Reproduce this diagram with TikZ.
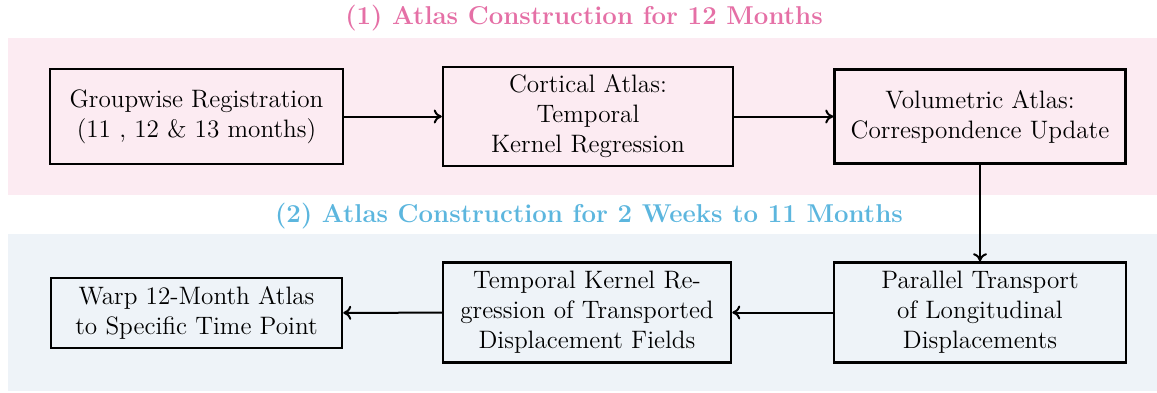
\documentclass[tikz,border=0pt]{standalone}
\usetikzlibrary{arrows.meta}
\definecolor{titlepink}{RGB}{229,112,166}
\definecolor{titleblue}{RGB}{92,182,222}
\definecolor{bandpink}{RGB}{252,235,242}
\definecolor{bandblue}{RGB}{238,243,248}
\tikzset{
  stepbox/.style={draw=black, line width=1.25pt, align=center, inner sep=2pt,
    font=\fontsize{12.6}{15}\selectfont, text=black},
  flow/.style={-{To[length=4pt,width=7pt]}, line width=1pt},
  bandtitle/.style={font=\fontsize{12.9}{15}\selectfont\bfseries},
}
\begin{document}
\begin{tikzpicture}[x=0.5pt,y=-0.5pt]
\useasboundingbox (0,0) rectangle (1157,392);
\fill[bandpink] (8,38) rectangle (1157,195);
\fill[bandblue] (8,234) rectangle (1157,391);
\node[bandtitle, text=titlepink] (t1) at (584,18) {(1) Atlas Construction for 12 Months};
\node[bandtitle, text=titleblue] (t2) at (589,216) {(2) Atlas Construction for 2 Weeks to 11 Months};

\node[stepbox, minimum width=146.5pt, minimum height=47.5pt] (b1) at (196.5,116.5)
  {Groupwise Registration\\(11 , 12 \& 13 months)};
\node[stepbox, minimum width=145pt, minimum height=49.5pt] (b2) at (588,116.5)
  {Cortical Atlas:\\Temporal\\Kernel Regression};
\node[stepbox, minimum width=145.5pt, minimum height=47pt] (b3) at (980,116.5)
  {Volumetric Atlas:\\Correspondence Update};

\node[stepbox, minimum width=145.5pt, minimum height=35pt] (b4) at (196.5,313)
  {Warp 12-Month Atlas\\to Specific Time Point};
\node[stepbox, minimum width=144pt, minimum height=50pt] (b5) at (587,312.5)
  {Temporal Kernel Re-\\gression of Transported\\Displacement Fields};
\node[stepbox, minimum width=146pt, minimum height=50pt] (b6) at (980,312.5)
  {Parallel Transport\\of Longitudinal\\Displacements};

\draw[flow] (b1) -- (b2);
\draw[flow] (b2) -- (b3);
\draw[flow] (b3) -- (b6);
\draw[flow] (b6) -- (b5);
\draw[flow] (b5) -- (b4);
\end{tikzpicture}
\end{document}
